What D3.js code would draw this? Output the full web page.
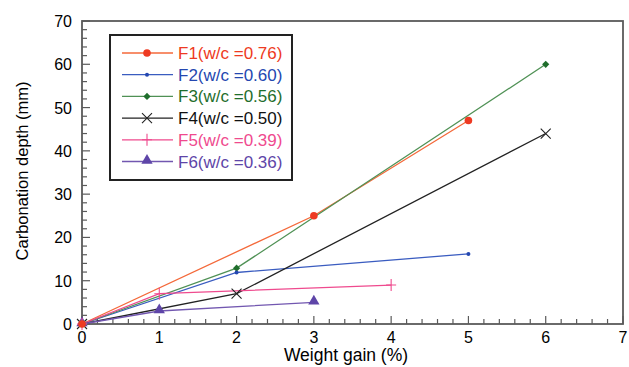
<!DOCTYPE html>
<html>
<head>
<meta charset="utf-8">
<script src="https://cdn.jsdelivr.net/npm/d3@7/dist/d3.min.js"></script>
<style>
  body { margin: 0; background: #fff; }
  svg { display: block; font-family: "Liberation Sans", Arial, sans-serif; }
</style>
</head>
<body>
<div id="chart"></div>
<script>
// data
var seriesNames = ["F1(w/c =0.76)", "F2(w/c =0.60)", "F3(w/c =0.56)", "F4(w/c =0.50)", "F5(w/c =0.39)", "F6(w/c =0.36)"];
var f1 = [[0, 0], [3, 25], [5, 47]];
var f2 = [[0, 0], [2, 11.9], [5, 16.2]];
var f3 = [[0, 0], [2, 12.9], [6, 60]];
var f4 = [[0, 0], [2, 7], [6, 44]];
var f5 = [[0, 0], [1, 7], [4, 9]];
var f6 = [[0, 0], [1, 3], [3, 5]];
var xTicks = [0, 1, 2, 3, 4, 5, 6, 7];
var yTicks = [0, 10, 20, 30, 40, 50, 60, 70];

var series = [
  { name: seriesNames[0], values: f1, line: "#f4693a", mark: "#ee3a22", symbol: "circle" },
  { name: seriesNames[1], values: f2, line: "#3a5cc0", mark: "#2447b0", symbol: "dot" },
  { name: seriesNames[2], values: f3, line: "#4f9155", mark: "#1f6e2c", symbol: "diamond" },
  { name: seriesNames[3], values: f4, line: "#222222", mark: "#222222", symbol: "cross" },
  { name: seriesNames[4], values: f5, line: "#ef4a8e", mark: "#ef4a8e", symbol: "plus" },
  { name: seriesNames[5], values: f6, line: "#7257b0", mark: "#5e45a8", symbol: "triangle" }
];

var width = 629, height = 367;
var margin = { top: 21, right: 6, bottom: 43, left: 82 };
var w = width - margin.left - margin.right;
var h = height - margin.top - margin.bottom;

var svg = d3.select("#chart").append("svg")
  .attr("width", width)
  .attr("height", height);

var g = svg.append("g")
  .attr("transform", "translate(" + margin.left + "," + margin.top + ")");

var x = d3.scaleLinear().domain([0, 7]).range([0, w]);
var y = d3.scaleLinear().domain([0, 70]).range([h, 0]);

var axisColor = "#5a5a5a";

// minor ticks
g.append("g").selectAll("line")
  .data(d3.range(0, 7.01, 0.2))
  .enter().append("line")
  .attr("x1", function(d) { return x(d); })
  .attr("x2", function(d) { return x(d); })
  .attr("y1", h)
  .attr("y2", function(d) { return Math.abs(d - Math.round(d)) < 1e-6 ? h - 8 : h - 5; })
  .attr("stroke", axisColor).attr("stroke-width", 1.2);

g.append("g").selectAll("line")
  .data(d3.range(0, 70.01, 2))
  .enter().append("line")
  .attr("y1", function(d) { return y(d); })
  .attr("y2", function(d) { return y(d); })
  .attr("x1", 0)
  .attr("x2", function(d) { return d % 10 === 0 ? 8 : 5; })
  .attr("stroke", axisColor).attr("stroke-width", 1.2);

// frame
g.append("rect")
  .attr("x", 0).attr("y", 0).attr("width", w).attr("height", h)
  .attr("fill", "none").attr("stroke", axisColor).attr("stroke-width", 1.8);

// tick labels
g.append("g").selectAll("text")
  .data(xTicks)
  .enter().append("text")
  .attr("x", function(d) { return x(d); })
  .attr("y", h + 18.5)
  .attr("text-anchor", "middle")
  .attr("font-size", 16)
  .text(function(d) { return d; });

g.append("g").selectAll("text")
  .data(yTicks)
  .enter().append("text")
  .attr("x", -10)
  .attr("y", function(d) { return y(d) + 6; })
  .attr("text-anchor", "end")
  .attr("font-size", 16)
  .text(function(d) { return d; });

// axis titles
svg.append("text")
  .attr("x", 346)
  .attr("y", 361)
  .attr("text-anchor", "middle")
  .attr("font-size", 17.5)
  .text("Weight gain (%)");

svg.append("text")
  .attr("transform", "translate(28,171) rotate(-90)")
  .attr("text-anchor", "middle")
  .attr("font-size", 16.5)
  .text("Carbonation depth (mm)");

// symbol drawing
function drawMarker(sel, s, cx, cy) {
  if (s.symbol === "circle") {
    sel.append("circle").attr("cx", cx).attr("cy", cy).attr("r", 3.8).attr("fill", s.mark);
  } else if (s.symbol === "dot") {
    sel.append("circle").attr("cx", cx).attr("cy", cy).attr("r", 2).attr("fill", s.mark);
  } else if (s.symbol === "diamond") {
    sel.append("path").attr("d", "M0,-3.6L3.6,0L0,3.6L-3.6,0Z")
      .attr("transform", "translate(" + cx + "," + cy + ")").attr("fill", s.mark);
  } else if (s.symbol === "triangle") {
    sel.append("path").attr("d", d3.symbol().type(d3.symbolTriangle).size(55)())
      .attr("transform", "translate(" + cx + "," + (cy - 1) + ")").attr("fill", s.mark);
  } else if (s.symbol === "cross") {
    sel.append("path").attr("d", "M-5,-5L5,5M-5,5L5,-5")
      .attr("transform", "translate(" + cx + "," + cy + ")")
      .attr("stroke", s.mark).attr("stroke-width", 1.1).attr("fill", "none");
  } else if (s.symbol === "plus") {
    sel.append("path").attr("d", "M0,-6L0,6M-5,0L5,0")
      .attr("transform", "translate(" + cx + "," + cy + ")")
      .attr("stroke", s.mark).attr("stroke-width", 1.1).attr("fill", "none");
  }
}

var line = d3.line()
  .x(function(d) { return x(d[0]); })
  .y(function(d) { return y(d[1]); });

series.forEach(function(s) {
  g.append("path")
    .datum(s.values)
    .attr("d", line)
    .attr("fill", "none")
    .attr("stroke", s.line)
    .attr("stroke-width", 1.3);
});

// markers on top, last series first so F1 stays visible at origin
series.slice().reverse().forEach(function(s) {
  var mg = g.append("g");
  s.values.forEach(function(d) {
    drawMarker(mg, s, x(d[0]), y(d[1]));
  });
});

// legend
var legend = svg.append("g").attr("transform", "translate(110,35)");
legend.append("rect")
  .attr("x", 0).attr("y", 0).attr("width", 182).attr("height", 145)
  .attr("fill", "#fff").attr("stroke", "#222").attr("stroke-width", 2);

series.forEach(function(s, i) {
  var ly = 18 + i * 21.7;
  legend.append("line")
    .attr("x1", 12).attr("x2", 63).attr("y1", ly).attr("y2", ly)
    .attr("stroke", s.line).attr("stroke-width", 1.3);
  drawMarker(legend, s, 37, ly);
  legend.append("text")
    .attr("x", 68).attr("y", ly + 6)
    .attr("font-size", 17)
    .attr("fill", s.symbol === "cross" ? "#111" : s.mark)
    .text(s.name);
});
</script>
</body>
</html>
